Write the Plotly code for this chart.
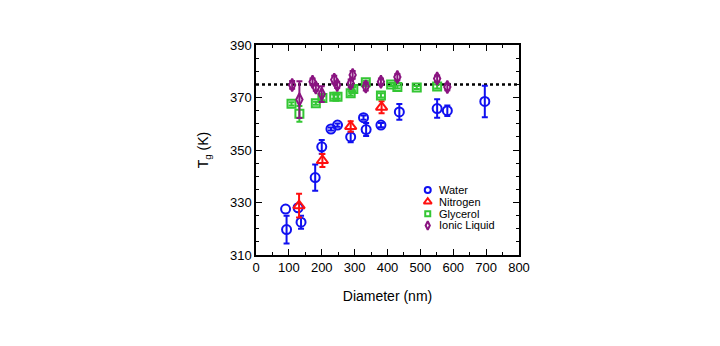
import plotly.graph_objects as go

# ---- data (None = no error bar drawn)
water_d = [90, 93, 128, 137, 180, 200, 228, 248, 288, 327, 335, 380, 436, 551, 582, 696]
water_tg = [327.5, 319.7, 328.0, 322.5, 339.5, 351.2, 358.0, 359.5, 355.0, 362.3, 357.8, 359.5, 364.5, 365.8, 365.0, 368.5]
water_err = [None, 5.3, None, 2.5, 5.0, 2.6, 0.6, 0.6, 2.0, 0.8, 2.5, 0.8, 3.0, 3.5, 2.0, 6.0]

nitrogen_d = [131, 202, 288, 382]
nitrogen_tg = [328.8, 346.0, 359.0, 366.3]
nitrogen_err = [4.5, 2.5, 2.0, 2.3]

glycerol_d = [108, 132, 182, 202, 238, 248, 288, 296, 334, 380, 411, 430, 489, 551]
glycerol_tg = [367.6, 363.8, 367.8, 369.8, 370.3, 370.3, 371.6, 373.2, 375.8, 370.8, 375.0, 374.0, 373.8, 374.2]
glycerol_err = [0.6, 3.0, 0.6, 0.8, 0.8, 0.8, 0.8, 0.8, 0.6, 0.8, 0.6, 0.6, 0.6, 0.8]

ionic_d = [110, 132, 172, 182, 200, 238, 247, 288, 294, 334, 380, 430, 551, 582]
ionic_tg = [374.8, 369.2, 376.0, 373.8, 371.3, 376.8, 374.8, 375.4, 378.6, 374.2, 376.0, 377.8, 377.2, 374.0]
ionic_err = [1.5, 7.0, 1.2, 1.2, 3.0, 1.5, 1.2, 1.5, 1.5, 1.5, 1.2, 1.2, 1.2, 1.2]

bulk_tg = 375

FONT = "Liberation Sans, Arial, sans-serif"

series = [
	("Water", water_d, water_tg, water_err, "#1010f0", "circle-open", 9),
	("Nitrogen", nitrogen_d, nitrogen_tg, nitrogen_err, "#ff1010", "triangle-up-open", 10),
	("Glycerol", glycerol_d, glycerol_tg, glycerol_err, "#33c633", "square-open", 8),
	("Ionic Liquid", ionic_d, ionic_tg, ionic_err, "#8a1480", "diamond-tall-open", 9),
]

fig = go.Figure()

for name, d, tg, err, color, symbol, size in series:
	marker = dict(symbol = symbol, size = size, color = color, line = dict(width = 2, color = color))
	# points with an error bar
	idx = [i for i, e in enumerate(err) if e is not None]
	fig.add_trace(go.Scatter(
		x = [d[i] for i in idx], y = [tg[i] for i in idx], mode = "markers", name = name, showlegend = False,
		marker = marker,
		error_y = dict(type = "data", array = [err[i] for i in idx], visible = True, color = color, thickness = 2, width = 3),
	))
	# points without one
	idx0 = [i for i, e in enumerate(err) if e is None]
	if idx0:
		fig.add_trace(go.Scatter(
			x = [d[i] for i in idx0], y = [tg[i] for i in idx0], mode = "markers", name = name, showlegend = False,
			marker = marker,
		))

# ---- compact legend (plotly's own legend rows are too tall), drawn on a hidden 0-1 overlay axis
leg_x, leg_y0, leg_dy = 0.653, 0.31, 0.0565
for i, (name, d, tg, err, color, symbol, size) in enumerate(series):
	yy = leg_y0 - i * leg_dy
	fig.add_trace(go.Scatter(
		x = [leg_x], y = [yy], xaxis = "x2", yaxis = "y2", mode = "markers", showlegend = False, hoverinfo = "skip",
		marker = dict(symbol = symbol, size = size - 3, color = color, line = dict(width = 2, color = color)),
	))
	fig.add_annotation(x = leg_x + 0.035, y = yy, xref = "paper", yref = "paper", text = name,
		showarrow = False, xanchor = "left", yanchor = "middle",
		font = dict(family = FONT, size = 11, color = "black"))

# ---- bulk Tg reference line
fig.add_shape(type = "line", xref = "paper", x0 = 0, x1 = 1, y0 = bulk_tg, y1 = bulk_tg,
	line = dict(color = "black", width = 2.5, dash = "dot"), layer = "below")

axis_common = dict(
	showline = True, linecolor = "black", linewidth = 1.5, mirror = "allticks",
	ticks = "inside", ticklen = 6, tickwidth = 1.2, tickcolor = "black",
	showgrid = False, zeroline = False, automargin = False,
	tickfont = dict(family = FONT, size = 13, color = "black"),
	minor = dict(ticks = "inside", ticklen = 3, tickwidth = 1.2, tickcolor = "black", showgrid = False),
)

fig.update_xaxes(range = [0, 800], tick0 = 0, dtick = 100, minor_dtick = 50,
	title = dict(text = "Diameter (nm)", font = dict(family = FONT, size = 14, color = "black"), standoff = 17),
	**axis_common)
fig.update_yaxes(range = [310, 390], tick0 = 310, dtick = 20, minor_dtick = 5,
	title = dict(text = "T<sub>g</sub> (K)", font = dict(family = FONT, size = 14, color = "black"), standoff = 18),
	**axis_common)

# page body has an 8px default margin, so margins are shifted to land the frame where the reference has it
fig.update_layout(
	width = 720, height = 346,
	paper_bgcolor = "white", plot_bgcolor = "white",
	font = dict(family = FONT, color = "black"),
	margin = dict(l = 248, r = 209, t = 37, b = 99),
	xaxis2 = dict(overlaying = "x", range = [0, 1], visible = False, fixedrange = True),
	yaxis2 = dict(overlaying = "y", range = [0, 1], visible = False, fixedrange = True),
)

fig.write_html("out.html")
